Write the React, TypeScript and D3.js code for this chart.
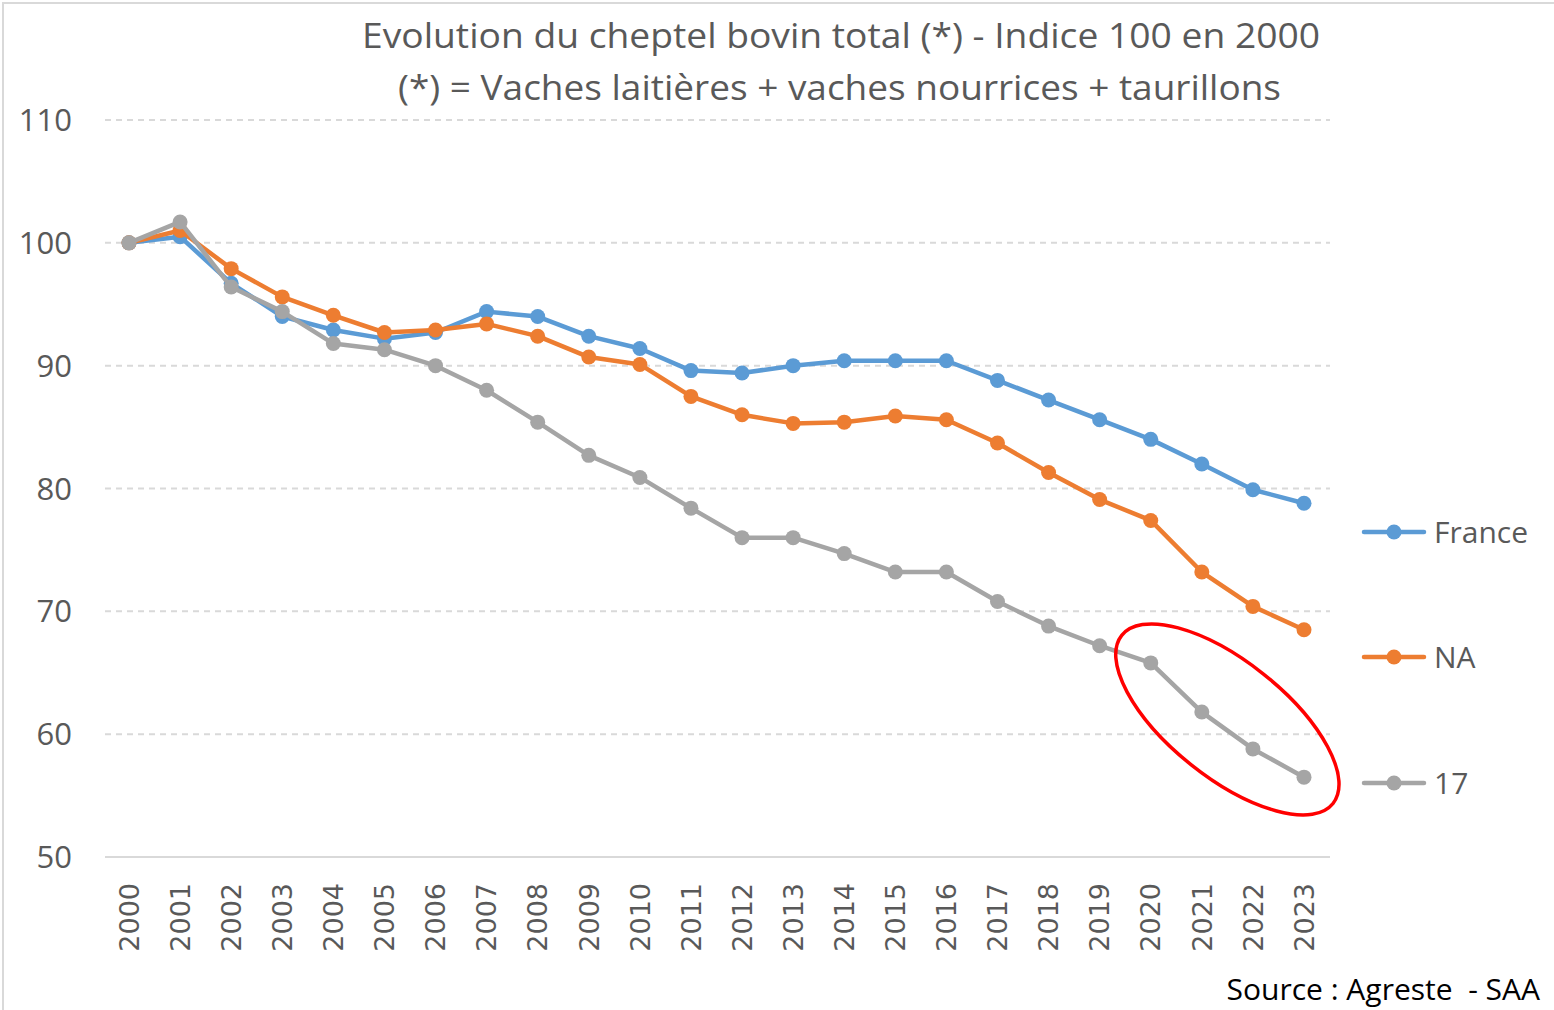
import { useEffect, useRef } from "react";
import * as d3 from "d3";

const years = [
  2000, 2001, 2002, 2003, 2004, 2005, 2006, 2007, 2008, 2009, 2010, 2011,
  2012, 2013, 2014, 2015, 2016, 2017, 2018, 2019, 2020, 2021, 2022, 2023,
];
const france = [
  100, 100.5, 96.7, 94.0, 92.9, 92.2, 92.7, 94.4, 94.0, 92.4, 91.4, 89.6,
  89.4, 90.0, 90.4, 90.4, 90.4, 88.8, 87.2, 85.6, 84.0, 82.0, 79.9, 78.8,
];
const na = [
  100, 101.0, 97.9, 95.6, 94.1, 92.7, 92.9, 93.4, 92.4, 90.7, 90.1, 87.5,
  86.0, 85.3, 85.4, 85.9, 85.6, 83.7, 81.3, 79.1, 77.4, 73.2, 70.4, 68.5,
];
const dept17 = [
  100, 101.7, 96.4, 94.4, 91.8, 91.3, 90.0, 88.0, 85.4, 82.7, 80.9, 78.4,
  76.0, 76.0, 74.7, 73.2, 73.2, 70.8, 68.8, 67.2, 65.8, 61.8, 58.8, 56.5,
];
const seriesNames = ["France", "NA", "17"];
const seriesColors = ["#5b9bd5", "#ed7d31", "#a5a5a5"];
const yTicks = [50, 60, 70, 80, 90, 100, 110];
const titleLines = [
  "Evolution du cheptel bovin total (*) - Indice 100 en 2000",
  "(*) = Vaches laitières + vaches nourrices + taurillons",
];
const sourceText = "Source : Agreste  - SAA";

export default function App() {
  const svgRef = useRef<SVGSVGElement>(null);
  const width = 1554;
  const height = 1010;

  useEffect(() => {
    const svg = d3.select(svgRef.current);
    svg.selectAll("*").remove();

    const x = d3.scaleLinear().domain([2000, 2023]).range([129, 1304]);
    const y = d3.scaleLinear().domain([50, 110]).range([857, 120]);
    const grey = "#595959";

    // frame
    svg
      .append("rect")
      .attr("x", 3)
      .attr("y", 3)
      .attr("width", width - 2)
      .attr("height", height - 2)
      .attr("fill", "white")
      .attr("stroke", "#d9d9d9")
      .attr("stroke-width", 2);

    // grid
    svg
      .append("g")
      .selectAll("line")
      .data(yTicks)
      .join("line")
      .attr("x1", 105)
      .attr("x2", 1330)
      .attr("y1", (d) => y(d))
      .attr("y2", (d) => y(d))
      .attr("stroke", "#d9d9d9")
      .attr("stroke-width", 2)
      .attr("stroke-dasharray", (d) => (d === 50 ? null : "6,5"));

    // y labels
    svg
      .append("g")
      .selectAll("text")
      .data(yTicks)
      .join("text")
      .attr("x", 72)
      .attr("y", (d) => y(d))
      .attr("dy", "0.36em")
      .attr("text-anchor", "end")
      .attr("font-family", "'Open Sans', sans-serif")
      .attr("font-size", 31)
      .attr("fill", grey)
      .text((d) => d);

    // x labels
    svg
      .append("g")
      .selectAll("text")
      .data(years)
      .join("text")
      .attr("transform", (d) => `translate(${x(d)},883) rotate(-90)`)
      .attr("text-anchor", "end")
      .attr("dy", "0.36em")
      .attr("font-family", "'DejaVu Sans', sans-serif")
      .attr("font-size", 27)
      .attr("fill", grey)
      .text((d) => d);

    const allSeries = [france, na, dept17];
    const line = d3
      .line<number>()
      .x((_, i) => x(years[i]))
      .y((d) => y(d));

    allSeries.forEach((vals, si) => {
      const g = svg.append("g");
      g.append("path")
        .datum(vals)
        .attr("d", line)
        .attr("fill", "none")
        .attr("stroke", seriesColors[si])
        .attr("stroke-width", 4.5)
        .attr("stroke-linejoin", "round");
      g.selectAll("circle")
        .data(vals)
        .join("circle")
        .attr("cx", (_, i) => x(years[i]))
        .attr("cy", (d) => y(d))
        .attr("r", 7.5)
        .attr("fill", seriesColors[si]);
    });

    // legend
    const legendY = [532, 657, 783];
    seriesNames.forEach((name, i) => {
      const g = svg.append("g").attr("transform", `translate(0,${legendY[i]})`);
      g.append("line")
        .attr("x1", 1364)
        .attr("x2", 1424)
        .attr("stroke", seriesColors[i])
        .attr("stroke-width", 4.5)
        .attr("stroke-linecap", "round");
      g.append("circle").attr("cx", 1394).attr("r", 7.5).attr("fill", seriesColors[i]);
      g.append("text")
        .attr("x", 1434)
        .attr("dy", "0.36em")
        .attr("font-family", "'Open Sans', sans-serif")
        .attr("font-size", 30)
        .attr("fill", grey)
        .text(name);
    });

    // red ellipse annotation
    svg
      .append("ellipse")
      .attr("cx", x(2021.5))
      .attr("cy", y(61.2))
      .attr("rx", 135)
      .attr("ry", 58)
      .attr("transform", `rotate(38.5,${x(2021.5)},${y(61.2)})`)
      .attr("fill", "none")
      .attr("stroke", "#ff0000")
      .attr("stroke-width", 3.5);

    // title
    const titleExtent = [
      [362, 1320],
      [398, 1281],
    ];
    titleLines.forEach((t, i) => {
      svg
        .append("text")
        .attr("x", titleExtent[i][0])
        .attr("y", 48 + i * 52)
        .attr("textLength", titleExtent[i][1] - titleExtent[i][0])
        .attr("lengthAdjust", "spacingAndGlyphs")
        .attr("font-family", "'Open Sans', sans-serif")
        .attr("font-size", 35)
        .attr("fill", grey)
        .text(t);
    });

    svg
      .append("text")
      .attr("x", 1540)
      .attr("y", 1000)
      .attr("text-anchor", "end")
      .attr("font-family", "'Open Sans', sans-serif")
      .attr("font-size", 30)
      .attr("fill", "#000")
      .style("white-space", "pre")
      .text(sourceText);
  }, []);

  return (
    <svg
      ref={svgRef}
      width={width}
      height={height}
      style={{ position: "absolute", left: 0, top: 0, background: "white" }}
    />
  );
}
